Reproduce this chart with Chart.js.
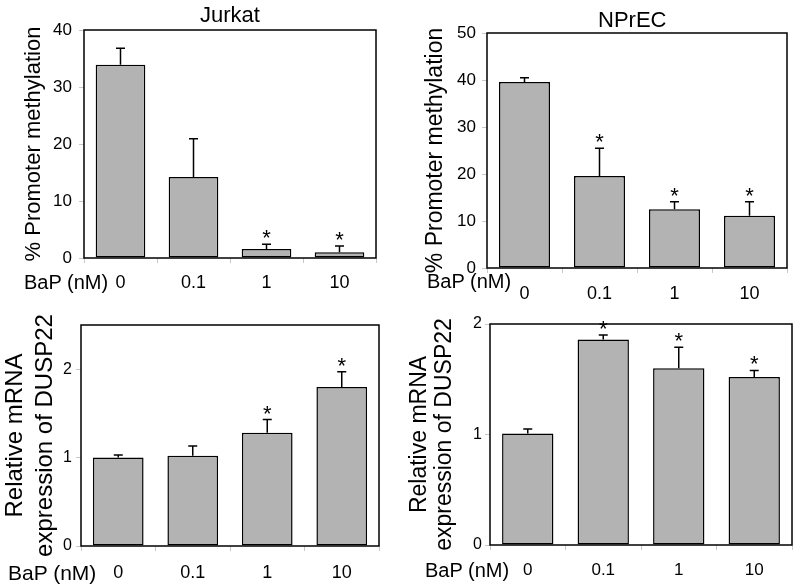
<!DOCTYPE html>
<html>
<head>
<meta charset="utf-8">
<script src="https://cdn.jsdelivr.net/npm/chart.js@4"></script>
<style>
  body { margin: 0; background: #fff; }
  #wrap { position: relative; width: 800px; height: 586px; overflow: hidden; font-family: "Liberation Sans", Arial, sans-serif; }
  canvas { position: absolute; }
  .lbl { position: absolute; line-height: 1; color: #000; white-space: nowrap; }
</style>
</head>
<body>
<div id="wrap">
  <canvas id="c1" width="400" height="300" style="left:0;top:0"></canvas>
  <canvas id="c2" width="400" height="310" style="left:400px;top:0"></canvas>
  <canvas id="c3" width="400" height="293" style="left:0;top:293px"></canvas>
  <canvas id="c4" width="400" height="293" style="left:400px;top:293px"></canvas>
  <div class="lbl" style="left:200px;top:4px;font-size:22px">Jurkat</div>
  <div class="lbl" style="left:598px;top:9px;font-size:22px">NPrEC</div>
  <div class="lbl" style="left:24px;top:272px;font-size:20px">BaP (nM)</div>
  <div class="lbl" style="left:427px;top:271px;font-size:20px">BaP (nM)</div>
  <div class="lbl" style="left:8px;top:562px;font-size:21px">BaP (nM)</div>
  <div class="lbl" style="left:425px;top:560px;font-size:20px">BaP (nM)</div>
</div>
<script>
const doses = ["0", "0.1", "1", "10"];

// % promoter methylation
const jurkatMeth = [33.9, 14.2, 1.6, 1.0];
const jurkatMethErr = [2.9, 6.7, 0.8, 1.1];
const jurkatMethSig = [false, false, true, true];

const nprecMeth = [39.6, 19.6, 12.5, 11.1];
const nprecMethErr = [0.9, 5.9, 1.6, 3.0];
const nprecMethSig = [false, true, true, true];

// relative mRNA expression of DUSP22
const jurkatMrna = [1.0, 1.02, 1.28, 1.8];
const jurkatMrnaErr = [0.03, 0.11, 0.15, 0.17];
const jurkatMrnaSig = [false, false, true, true];

const nprecMrna = [1.01, 1.86, 1.6, 1.52];
const nprecMrnaErr = [0.04, 0.04, 0.19, 0.06];
const nprecMrnaSig = [false, true, true, true];

const methTitle = "% Promoter methylation";
const mrnaTitle = ["Relative mRNA", "expression of DUSP22"];

const FONT = "'Liberation Sans', Arial, sans-serif";

// error bars (upper only), asterisks and the plot frame
const errorBarPlugin = {
  id: "errorBars",
  afterDatasetsDraw(chart, args, opts) {
    const ctx = chart.ctx;
    const y = chart.scales.y;
    const vals = chart.data.datasets[0].data;
    ctx.save();
    ctx.strokeStyle = "#000";
    ctx.fillStyle = "#000";
    ctx.lineWidth = 1.5;
    chart.getDatasetMeta(0).data.forEach((bar, i) => {
      const top = y.getPixelForValue(vals[i] + opts.errors[i]);
      ctx.beginPath();
      ctx.moveTo(bar.x, bar.y);
      ctx.lineTo(bar.x, top);
      ctx.moveTo(bar.x - 4.5, top);
      ctx.lineTo(bar.x + 4.5, top);
      ctx.stroke();
      if (opts.stars[i]) {
        ctx.font = "22px " + FONT;
        ctx.textAlign = "center";
        ctx.textBaseline = "alphabetic";
        ctx.fillText("*", bar.x, top + 1);
      }
    });
    const a = chart.chartArea;
    ctx.strokeRect(a.left, a.top, a.right - a.left, a.bottom - a.top);
    ctx.restore();
  }
};

function makePanel(id, values, errors, stars, g){
  const ctx = document.getElementById(id).getContext("2d");
  return new Chart(ctx, {
    type: "bar",
    data: {
      labels: doses,
      datasets: [{
        data: values,
        backgroundColor: "#b3b3b3",
        borderColor: "#000",
        borderWidth: 1.5,
        borderSkipped: false,
        barPercentage: 1,
        categoryPercentage: 0.68
      }]
    },
    options: {
      responsive: false,
      animation: false,
      layout: { padding: { top: g.padTop, right: g.padRight, left: 0, bottom: 0 } },
      plugins: {
        legend: { display: false },
        tooltip: { enabled: false },
        errorBars: { errors, stars }
      },
      scales: {
        x: {
          grid: { drawOnChartArea: false, tickLength: 5, color: "#c8c8c8" },
          border: { display: false },
          ticks: { color: "#000", font: { family: FONT, size: g.xFont }, padding: g.xPad, maxRotation: 0 },
          afterFit: s => { s.height = g.xHeight; }
        },
        y: {
          min: 0,
          max: g.max,
          grid: { drawOnChartArea: false, tickLength: 5, color: "#c8c8c8" },
          border: { display: false },
          ticks: { stepSize: g.step, includeBounds: false, color: "#000", font: { family: FONT, size: g.yFont }, padding: g.yPad },
          title: {
            display: true,
            text: g.title,
            color: "#000",
            font: { family: FONT, size: g.titleSize, lineHeight: g.titleLH },
            padding: { top: g.titlePad, bottom: 0 }
          },
          afterFit: s => { s.width = g.yWidth; }
        }
      }
    },
    plugins: [errorBarPlugin]
  });
}

makePanel("c1", jurkatMeth, jurkatMethErr, jurkatMethSig, {
  padTop: 30, padRight: 24, yWidth: 84, xHeight: 42, xFont: 18, xPad: 9, yFont: 17, yPad: 7,
  max: 40, step: 10, title: methTitle, titleSize: 22, titleLH: 1.2, titlePad: 21
});
makePanel("c2", nprecMeth, nprecMethErr, nprecMethSig, {
  padTop: 33, padRight: 13, yWidth: 87, xHeight: 42, xFont: 18, xPad: 10, yFont: 17, yPad: 6,
  max: 50, step: 10, title: methTitle, titleSize: 23, titleLH: 1.2, titlePad: 22
});
makePanel("c3", jurkatMrna, jurkatMrnaErr, jurkatMrnaSig, {
  padTop: 32, padRight: 21, yWidth: 81, xHeight: 40, xFont: 18, xPad: 11, yFont: 16, yPad: 4,
  max: 2.5, step: 1, title: mrnaTitle, titleSize: 24, titleLH: 1.25, titlePad: 0
});
makePanel("c4", nprecMrna, nprecMrnaErr, nprecMrnaSig, {
  padTop: 31, padRight: 8, yWidth: 90, xHeight: 41, xFont: 17, xPad: 10, yFont: 16, yPad: 3,
  max: 2, step: 1, title: mrnaTitle, titleSize: 23, titleLH: 1.087, titlePad: 7.5
});
</script>
</body>
</html>
